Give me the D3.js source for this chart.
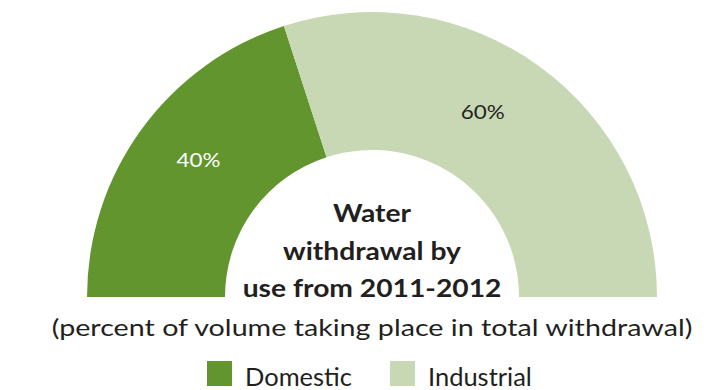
<!DOCTYPE html>
<html>
<head>
<meta charset="utf-8">
<script src="https://cdn.jsdelivr.net/npm/d3@7"></script>
<style>
  html, body { margin: 0; padding: 0; background: #fff; }
  svg { display: block; font-family: "Lato", "Open Sans", sans-serif; }
</style>
</head>
<body>
<svg id="chart" width="726" height="390"></svg>
<script>
// Water withdrawal shares by use
const categories = ["Domestic", "Industrial"];
const values = [40, 60];
const colors = ["#63952f", "#c8d8b4"];
const labelColors = ["#ffffff", "#231f20"];
const titleLines = ["Water", "withdrawal by", "use from 2011-2012"];
const subtitle = "(percent of volume taking place in total withdrawal)";

const svg = d3.select("#chart");
const cx = 372, cy = 297;
const outerR = 285, innerR = 147;
const ink = "#231f20";
// the face used is narrower than the original geometric face; widen glyphs a bit
const wide = (sel, sx) => sel.attr("transform", function () {
  return (d3.select(this).attr("transform") || "") + ` scale(${sx},1)`;
});

const pie = d3.pie()
  .sort(null)
  .value(d => d)
  .startAngle(-Math.PI / 2)
  .endAngle(Math.PI / 2);

const arc = d3.arc().innerRadius(innerR).outerRadius(outerR);

const g = svg.append("g").attr("transform", `translate(${cx},${cy})`);
const slices = pie(values);

g.selectAll("path.slice")
  .data(slices)
  .join("path")
  .attr("class", "slice")
  .attr("d", arc)
  .attr("fill", (d, i) => colors[i]);

// percentage labels placed in the ring, slightly toward the split line
const labelR = [221, 215];
const labelTurn = [0.04, -0.087];
g.selectAll("text.pct")
  .data(slices)
  .join("text")
  .attr("class", "pct")
  .attr("transform", (d, i) => {
    const a = (d.startAngle + d.endAngle) / 2 + labelTurn[i];
    return `translate(${labelR[i] * Math.sin(a)},${-labelR[i] * Math.cos(a)}) scale(1.18,1)`;
  })
  .attr("text-anchor", "middle")
  .attr("dy", "0.35em")
  .attr("fill", (d, i) => labelColors[i])
  .style("font-size", "19px")
  .text(d => d.data + "%");

// Title inside the hole
svg.append("g")
  .selectAll("text")
  .data(titleLines)
  .join("text")
  .attr("transform", (d, i) => `translate(${cx},${222 + i * 37.5}) scale(1.13,1)`)
  .attr("text-anchor", "middle")
  .attr("fill", ink)
  .style("font-size", "25px")
  .style("font-weight", "bold")
  .text(d => d);

svg.append("text")
  .attr("transform", `translate(${cx},336) scale(1.22,1)`)
  .attr("text-anchor", "middle")
  .attr("fill", ink)
  .style("font-size", "23.5px")
  .text(subtitle);

// Legend
const legendX = [207, 390];
const legend = svg.append("g")
  .selectAll("g")
  .data(categories)
  .join("g")
  .attr("transform", (d, i) => `translate(${legendX[i]},361)`);

legend.append("rect")
  .attr("width", 25)
  .attr("height", 25)
  .attr("fill", (d, i) => colors[i]);

legend.append("text")
  .attr("transform", "translate(38,25) scale(1.04,1)")
  .attr("fill", ink)
  .style("font-size", "24.5px")
  .text(d => d);
</script>
</body>
</html>
